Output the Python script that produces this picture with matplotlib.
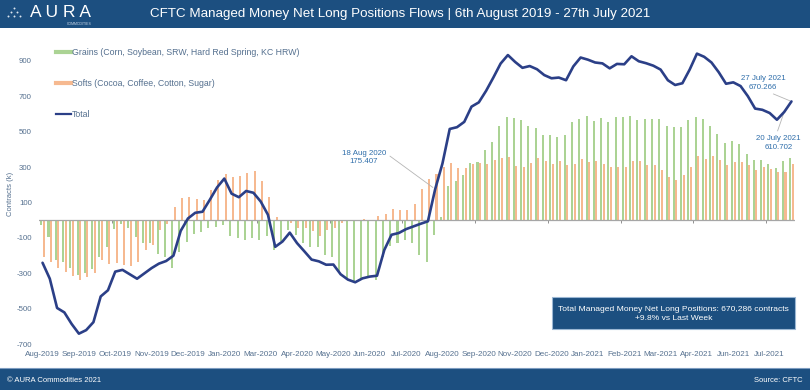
import numpy as np
import matplotlib.pyplot as plt
from matplotlib.patches import Rectangle
from matplotlib.lines import Line2D

plt.rcParams['font.family'] = ['Liberation Sans', 'DejaVu Sans']
plt.rcParams['axes.unicode_minus'] = False

# weekly CFTC managed money net long positions, thousand contracts
grains = [-25, -92, -223, -233, -270, -310, -300, -275, -205, -150,
          -50, -20, -45, -95, -130, -130, -190, -210, -270, -180,
          -120, -75, -65, -45, -38, -25, -91, -100, -110, -100,
          -110, -91, -167, -115, -55, -85, -130, -150, -150, -195,
          -205, -285, -325, -345, -335, -318, -338, -205, -145, -130,
          -110, -130, -194, -238, -86, 20, 191, 219, 256, 322,
          331, 397, 444, 529, 580, 576, 566, 532, 522, 482,
          482, 467, 482, 557, 570, 589, 559, 578, 555, 585,
          581, 589, 566, 574, 574, 574, 532, 525, 525, 566,
          581, 572, 532, 487, 438, 448, 431, 373, 341, 341,
          315, 295, 337, 352]

softs = [-205, -238, -270, -290, -317, -336, -320, -300, -225, -245,
         -242, -255, -260, -235, -170, -140, -55, -20, 75, 125,
         130, 118, 115, 170, 225, 262, 243, 250, 266, 275,
         219, 129, 16, -5, -15, -44, -44, -63, -91, -54,
         -44, -16, -7, -3, 8, 0, 25, 37, 63, 59,
         59, 93, 175, 232, 262, 300, 322, 294, 294, 318,
         322, 318, 340, 350, 356, 307, 299, 322, 350, 337,
         318, 337, 309, 318, 346, 329, 337, 316, 303, 299,
         299, 337, 337, 314, 314, 284, 243, 228, 253, 303,
         360, 345, 360, 341, 313, 326, 326, 313, 281, 298,
         290, 272, 274, 318]

total = [-240, -330, -495, -520, -585, -640, -620, -575, -430, -395,
         -290, -280, -305, -330, -300, -270, -245, -230, -200, -60,
         10, 42, 48, 115, 185, 235, 150, 130, 165, 155,
         106, 31, -150, -120, -70, -129, -175, -222, -232, -251,
         -250, -305, -335, -350, -328, -318, -313, -168, -82, -72,
         -50, -35, -20, -6, 175.407, 320, 515, 525, 555, 641,
         665, 730, 805, 884, 932, 893, 860, 870, 852, 819,
         801, 805, 790, 868, 918, 906, 890, 885, 857, 882,
         880, 925, 897, 886, 872, 850, 790, 763, 773, 850,
         940, 922, 890, 835, 770, 778, 757, 700, 630, 623,
         605, 567, 610.702, 670.266]

tick_labels = ['Aug-2019', 'Sep-2019', 'Oct-2019', 'Nov-2019', 'Dec-2019', 'Jan-2020',
               'Mar-2020', 'Apr-2020', 'May-2020', 'Jun-2020', 'Jul-2020', 'Aug-2020',
               'Sep-2020', 'Nov-2020', 'Dec-2020', 'Jan-2021', 'Feb-2021', 'Mar-2021',
               'Apr-2021', 'Jun-2021', 'Jul-2021']

GREEN = '#abd394'
ORANGE = '#f6b990'
NAVY = '#2b3f87'
BLUE = '#1c4f80'
TICK = '#55708f'
ANN = '#2f6eaa'

W, H = 810, 390


def fx(px):
    return px / W


def fy(py):
    return 1 - py / H


fig = plt.figure(figsize=(8.1, 3.9), dpi=100)
ax = fig.add_axes([fx(38.9), fy(344.3), fx(795.1) - fx(38.9), fy(43) - fy(344.3)])

x = np.arange(len(total))
ax.bar(x - 0.18, grains, width=0.28, color=GREEN, zorder=2)
ax.bar(x + 0.18, softs, width=0.28, color=ORANGE, zorder=2)
ax.axhline(0, color='#a6a6a6', lw=0.9, zorder=3)
ax.plot(x, total, color=NAVY, lw=1.9, zorder=4,
        solid_joinstyle='round', solid_capstyle='round')

ax.set_xlim(-0.5, len(total) - 0.5)
ax.set_ylim(-700, 1000)
for s in ax.spines.values():
    s.set_visible(False)
ax.set_yticks(range(-700, 1000, 200))
ax.tick_params(axis='y', length=0, pad=5, labelsize=5.7, labelcolor=TICK)
ax.set_xticks(x[::5], tick_labels)
ax.tick_params(axis='x', length=0, pad=4.5, labelsize=5.8, labelcolor=TICK)
ax.set_ylabel('Contracts (k)', fontsize=5.5, color=TICK, labelpad=2)

# small tick marks on the zero line, every 10 weeks
sec = ax.secondary_xaxis(700 / 1700)
sec.xaxis.set_ticks_position('bottom')
sec.set_xticks(np.arange(9.5, len(total), 10))
sec.tick_params(length=2.5, width=0.7, color='#909090', labelbottom=False, labeltop=False)
for s in sec.spines.values():
    s.set_visible(False)

handles = [Line2D([], [], color=GREEN, lw=3),
           Line2D([], [], color=ORANGE, lw=3),
           Line2D([], [], color=NAVY, lw=1.6)]
labels = ['Grains (Corn, Soybean, SRW, Hard Red Spring, KC HRW)',
          'Softs (Cocoa, Coffee, Cotton, Sugar)',
          'Total']
fig.legend(handles, labels, loc='upper left', bbox_to_anchor=(fx(56), fy(48)),
           frameon=False, fontsize=6.3, labelcolor=TICK, borderpad=0, borderaxespad=0,
           labelspacing=2.5, handlelength=1.7, handletextpad=0.1)

ax.annotate('18 Aug 2020\n175.407', xy=(54, total[54]), xytext=(44.2, 355),
            ha='center', va='center', fontsize=5.7, color=ANN, linespacing=1.3,
            arrowprops=dict(arrowstyle='-', color='#b5b5b5', lw=0.6,
                            shrinkA=1, shrinkB=2, relpos=(1.03, 0.7)))
ax.annotate('27 July 2021\n670.266', xy=(103, total[103]), xytext=(99.1, 775),
            ha='center', va='center', fontsize=5.7, color=ANN, linespacing=1.3,
            arrowprops=dict(arrowstyle='-', color='#b5b5b5', lw=0.6,
                            shrinkA=1, shrinkB=1, relpos=(0.55, 0)))
ax.annotate('20 July 2021\n610.702', xy=(102, total[102]), xytext=(101.2, 437),
            ha='center', va='center', fontsize=5.7, color=ANN, linespacing=1.3,
            arrowprops=dict(arrowstyle='-', color='#b5b5b5', lw=0.6,
                            shrinkA=1, shrinkB=1, relpos=(0.45, 1)))

# summary box
fig.add_artist(Rectangle((fx(552), fy(329)), fx(795) - fx(552), fy(297) - fy(329),
                         transform=fig.transFigure, facecolor=BLUE,
                         edgecolor='#9bb7d4', lw=0.8))
fig.text(fx(673.5), fy(313.8),
         'Total Managed Money Net Long Positions: 670,286 contracts\n+9.8% vs Last Week',
         ha='center', va='center', fontsize=6.1, color='white', linespacing=1.35)

# header
fig.add_artist(Rectangle((0, fy(28)), 1, 28 / H, transform=fig.transFigure,
                         facecolor=BLUE, edgecolor='none'))
fig.text(fx(150), fy(14), 
         'CFTC Managed Money Net Long Positions Flows | 6th August 2019 - 27th July 2021',
         ha='left', va='center', fontsize=9.6, color='white')
fig.text(fx(30), fy(12.5), 'A U R A', ha='left', va='center', fontsize=12.5, color='white')
fig.text(fx(79), fy(24), 'COMMODITIES', ha='center', va='center', fontsize=2.5, color='#c8d6e6')
dots_x = [14, 11, 17, 8, 14, 20]
dots_y = [8, 12, 12, 16, 16, 16]
fig.add_artist(Line2D([fx(v) for v in dots_x], [fy(v) for v in dots_y],
                      transform=fig.transFigure, ls='none', marker='o',
                      markersize=1.4, color='#dde6f0', markeredgewidth=0))

# footer
fig.add_artist(Rectangle((0, 0), 1, 22 / H, transform=fig.transFigure,
                         facecolor=BLUE, edgecolor='none'))
fig.add_artist(Line2D([0, 1], [fy(368), fy(368)], transform=fig.transFigure,
                      color='#7d9cc0', lw=0.8))
fig.text(fx(7), fy(380), '\u00a9 AURA Commodities 2021', ha='left', va='center',
         fontsize=5.5, color='white')
fig.text(fx(803), fy(380), 'Source: CFTC', ha='right', va='center',
         fontsize=5.5, color='white')

fig.savefig('out.png', dpi=100, facecolor='white')
